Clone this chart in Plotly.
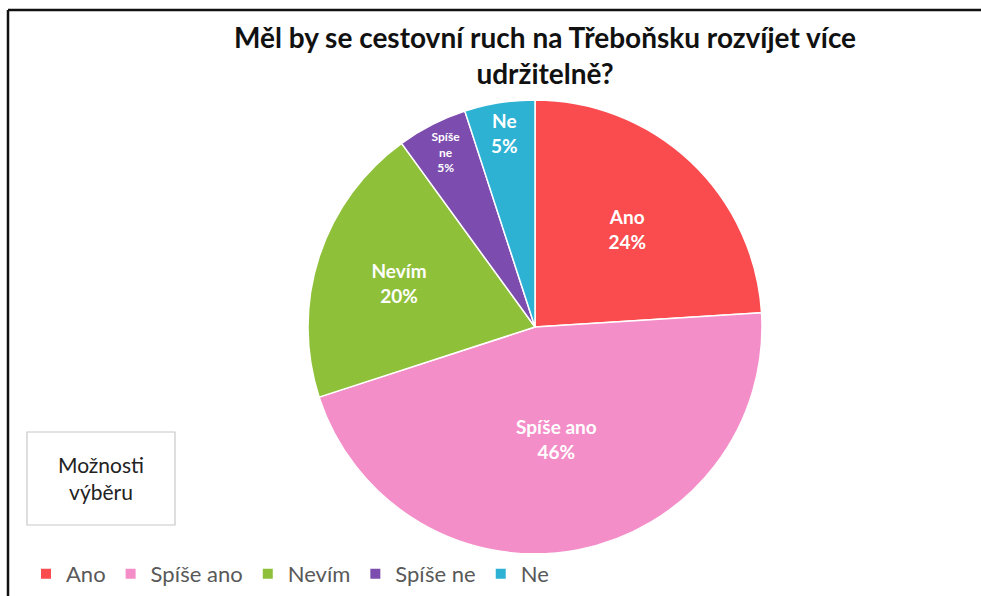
import plotly.graph_objects as go

categories = ["Ano", "Spíše ano", "Nevím", "Spíše ne", "Ne"]
values = [24, 46, 20, 5, 5]
slice_text = ["Ano<br>24%", "Spíše ano<br>46%", "Nevím<br>20%", "Spíše<br>ne<br>5%", "Ne<br>5%"]
colors = ["#FA4B4E", "#F48EC8", "#8FC03A", "#7C4DAE", "#2EB2D4"]
text_sizes = [19, 19, 19, 12, 19]
title_text = "<b>Měl by se cestovní ruch na Třeboňsku rozvíjet více<br>udržitelně?</b>"
box_text = "Možnosti<br>výběru"

W, H = 981, 596
FONT = "Lato, Open Sans, sans-serif"

fig = go.Figure()
fig.add_trace(go.Pie(
    labels=categories,
    values=values,
    text=slice_text,
    textinfo="text",
    texttemplate="<b>%{text}</b>",
    textposition="inside",
    insidetextorientation="horizontal",
    textfont=dict(color="white", size=text_sizes, family=FONT),
    marker=dict(colors=colors, line=dict(color="white", width=1.5)),
    sort=False,
    direction="clockwise",
    rotation=0,
    domain=dict(x=[308 / W, 762 / W], y=[42 / H, 496 / H]),
    hoverinfo="label+percent",
))

fig.update_layout(
    width=W, height=H,
    margin=dict(l=0, r=0, t=0, b=0),
    paper_bgcolor="white",
    plot_bgcolor="white",
    legend=dict(
        orientation="h",
        x=26 / W, xanchor="left",
        y=(H - 574) / H, yanchor="middle",
        font=dict(size=22, color="#595959", family=FONT),
        itemsizing="constant",
        traceorder="normal",
        itemwidth=30,
    ),
    shapes=[
        dict(type="line", xref="paper", yref="paper", x0=8 / W, x1=1, y0=1 - 10 / H, y1=1 - 10 / H,
             line=dict(color="#111111", width=2.5)),
        dict(type="line", xref="paper", yref="paper", x0=8 / W, x1=8 / W, y0=0, y1=1 - 10 / H,
             line=dict(color="#111111", width=2.5)),
        dict(type="rect", xref="paper", yref="paper", x0=27 / W, x1=175 / W,
             y0=(H - 525) / H, y1=(H - 432) / H,
             line=dict(color="#C8C8C8", width=1.2), fillcolor="white"),
    ],
    annotations=[
        dict(text=title_text, xref="paper", yref="paper",
             x=545 / W, y=(H - 55) / H, xanchor="center", yanchor="middle",
             showarrow=False, font=dict(size=28, color="#111111", family=FONT)),
        dict(text=box_text, xref="paper", yref="paper",
             x=101 / W, y=(H - 478) / H, xanchor="center", yanchor="middle",
             showarrow=False, font=dict(size=21, color="#222222", family=FONT)),
    ],
)

fig.write_html("out.html", config={"displayModeBar": False},
               post_script="document.body.style.margin='0';document.body.style.padding='0';")
